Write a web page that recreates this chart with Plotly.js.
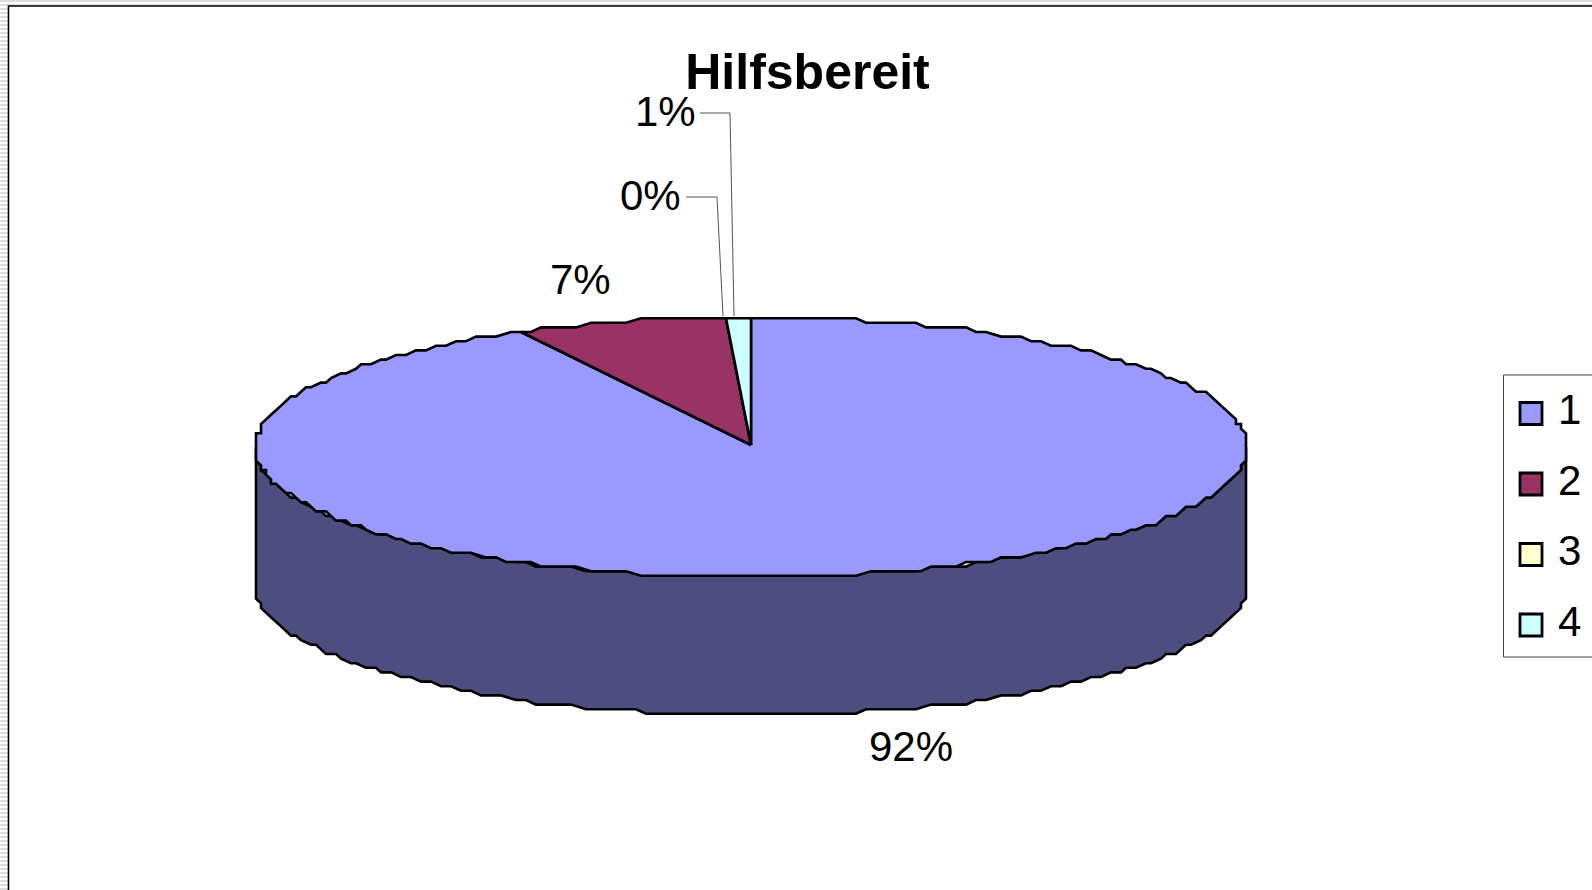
<!DOCTYPE html>
<html>
<head>
<meta charset="utf-8">
<script src="https://cdn.plot.ly/plotly-3.0.1.min.js"></script>
<style>
html,body{margin:0;padding:0;width:1592px;height:890px;overflow:hidden;
background:repeating-linear-gradient(180deg,#dcdcdc 0,#dcdcdc 2px,#ffffff 2px,#ffffff 4px);}
#chart{position:absolute;left:0;top:0;width:1592px;height:890px;}
</style>
</head>
<body>
<div id="chart"></div>
<script>
// ---- data ----
const chartTitle = "Hilfsbereit";
const categories = ["1", "2", "3", "4"];
const shares = [92.3, 6.9, 0, 0.8];
const percentLabels = ["92%", "7%", "0%", "1%"];

// ---- styles ----
const sliceColors = ["#9999FF", "#993366", "#FFFFCC", "#CCFFFF"];
const wallColor = "#4D4D80";
const FONT = "Liberation Sans, Arial, sans-serif";

// ---- pie geometry (screen-mapped axes) ----
const cx = 751, cy = 447, rx = 496, ry = 130, depth = 138;
const gridX = 5, gridY = 4.6;   // coarse plotting grid gives the stepped outline
const snap = (v, g) => Math.round(v / g) * g;

function rimPoint(deg, dy) {
  const a = deg * Math.PI / 180;
  return [cx + snap(rx * Math.sin(a), gridX), cy + snap(-ry * Math.cos(a), gridY) + (dy || 0)];
}
function arc(from, to, dy) {
  const pts = [];
  const n = Math.max(1, Math.ceil(Math.abs(to - from) / 1.5));
  for (let i = 0; i <= n; i++) pts.push(rimPoint(from + (to - from) * i / n, dy));
  return pts;
}
const total = shares.reduce((a, b) => a + b, 0);
let cum = 0;
const sliceTraces = shares.map((v, i) => {
  const start = cum / total * 360; cum += v;
  const end = cum / total * 360;
  const pts = [[cx, cy - 2]].concat(arc(start, end)).concat([[cx, cy - 2]]);
  return {
    type: "scatter", mode: "lines", x: pts.map(p => p[0]), y: pts.map(p => p[1]),
    fill: "toself", fillcolor: sliceColors[i],
    line: {color: "#000", width: 2.6, simplify: false},
    name: categories[i], showlegend: false, hoverinfo: "name"
  };
});

// front wall: the lower half of the rim, repeated one depth below
const wallTop = arc(90, 270), wallBottom = arc(270, 90, depth);
const wallPts = wallTop.concat(wallBottom).concat([wallTop[0]]);
const wallTrace = {
  type: "scatter", mode: "lines", x: wallPts.map(p => p[0]), y: wallPts.map(p => p[1]),
  fill: "toself", fillcolor: wallColor, line: {color: "#000", width: 2.6, simplify: false},
  showlegend: false, hoverinfo: "skip"
};

// hand-placed legend swatches and digits
const legendY = [413.5, 484, 554.5, 625];
const legendTrace = {
  type: "scatter", mode: "markers", x: categories.map(() => 1531), y: legendY,
  marker: {symbol: "square", size: 22, color: sliceColors, line: {color: "#000", width: 2.8}},
  showlegend: false, hoverinfo: "skip"
};

const labelAnchors = [[911, 746], [580, 279], [650, 195], [665, 111]];
const annotations = percentLabels.map((t, i) => ({
  x: labelAnchors[i][0], y: labelAnchors[i][1], text: t, showarrow: false,
  xanchor: "center", yanchor: "middle", font: {family: FONT, size: 42, color: "#000"}
})).concat(categories.map((c, i) => ({
  x: 1569, y: legendY[i] - 4, text: c, showarrow: false,
  xanchor: "center", yanchor: "middle", font: {family: FONT, size: 42, color: "#000"}
})));

const line = (x0, y0, x1, y1, color, width) => ({
  type: "line", x0, y0, x1, y1, xref: "x", yref: "y",
  line: {color: color, width: width}, layer: "below"
});
const shapes = [
  {type: "rect", xref: "x", yref: "y", x0: 8.5, y0: 6, x1: 1640, y1: 940,
   fillcolor: "#fff", line: {color: "#000", width: 1.6}, layer: "below"},
  line(700, 113, 730, 113, "#555", 1), line(730, 113, 734, 316, "#555", 1),
  line(686, 197, 717, 197, "#555", 1), line(717, 197, 723, 316, "#555", 1),
  {type: "rect", xref: "x", yref: "y", x0: 1503.5, y0: 375, x1: 1640, y1: 657,
   fillcolor: "#fff", line: {color: "#444", width: 1}, layer: "below"}
];

Plotly.newPlot("chart", [wallTrace].concat(sliceTraces, [legendTrace]), {
  width: 1592, height: 890,
  margin: {l: 0, r: 0, t: 0, b: 0, pad: 0},
  paper_bgcolor: "rgba(0,0,0,0)", plot_bgcolor: "rgba(0,0,0,0)",
  showlegend: false,
  title: {text: "<b>" + chartTitle + "</b>", x: 807.5 / 1592, xanchor: "center",
          y: 1 - 71 / 890, yanchor: "middle", xref: "paper", yref: "paper",
          font: {family: FONT, size: 50, color: "#000"}},
  xaxis: {range: [0, 1592], visible: false, fixedrange: true},
  yaxis: {range: [890, 0], visible: false, fixedrange: true},
  annotations, shapes
}, {displayModeBar: false, staticPlot: true});
</script>
</body>
</html>
